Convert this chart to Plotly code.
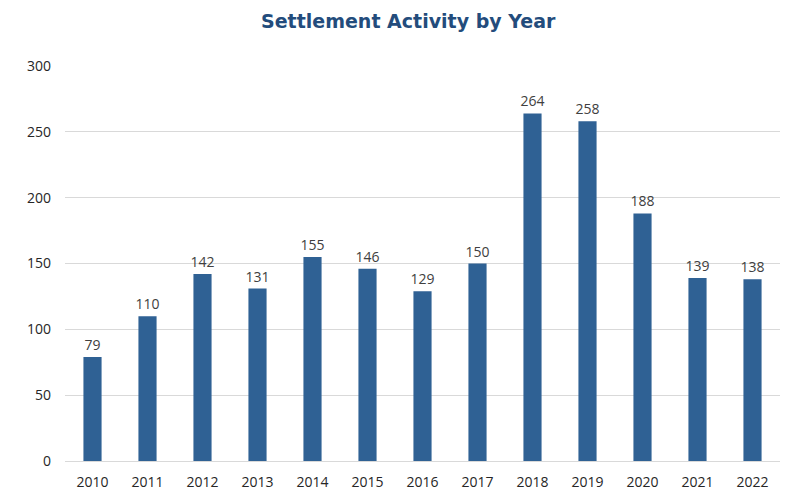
import plotly.graph_objects as go

years = ["2010", "2011", "2012", "2013", "2014", "2015", "2016", "2017", "2018", "2019", "2020", "2021", "2022"]
settlements = [79, 110, 142, 131, 155, 146, 129, 150, 264, 258, 188, 139, 138]
y_ticks = [0, 50, 100, 150, 200, 250, 300]

fig = go.Figure()
fig.add_trace(go.Bar(
    x=years,
    y=settlements,
    marker=dict(color="#2F6194", line=dict(width=0)),
    text=[str(v) for v in settlements],
    textposition="outside",
    constraintext="none",
    textfont=dict(family="Open Sans, Liberation Sans, sans-serif", size=14, color="#404040"),
    cliponaxis=False,
))

fig.update_layout(
    width=802,
    height=492,
    paper_bgcolor="white",
    plot_bgcolor="white",
    margin=dict(l=57, r=30, t=58, b=39),
    bargap=0.67,
    showlegend=False,
    title=dict(
        text="<b>Settlement Activity by Year</b>",
        x=0.499,
        xanchor="center",
        xref="container",
        yref="container",
        y=1.0,
        yanchor="top",
        pad=dict(t=7, b=0, l=0, r=0),
        font=dict(family="DejaVu Sans, Verdana, sans-serif", size=19, color="#234C7C"),
    ),
)

fig.update_xaxes(
    type="category",
    automargin=False,
    showgrid=False,
    showline=True,
    linecolor="#d9d9d9",
    linewidth=1,
    ticks="",
    ticklabelstandoff=8,
    tickfont=dict(family="Open Sans, Liberation Sans, sans-serif", size=14, color="#262626"),
)

fig.update_yaxes(
    range=[0, 300],
    automargin=False,
    tickvals=y_ticks,
    showgrid=True,
    gridcolor="#d9d9d9",
    gridwidth=1,
    zeroline=False,
    showline=False,
    ticks="",
    ticklabelstandoff=13,
    tickfont=dict(family="Open Sans, Liberation Sans, sans-serif", size=14, color="#262626"),
)

fig.write_html("out.html")
